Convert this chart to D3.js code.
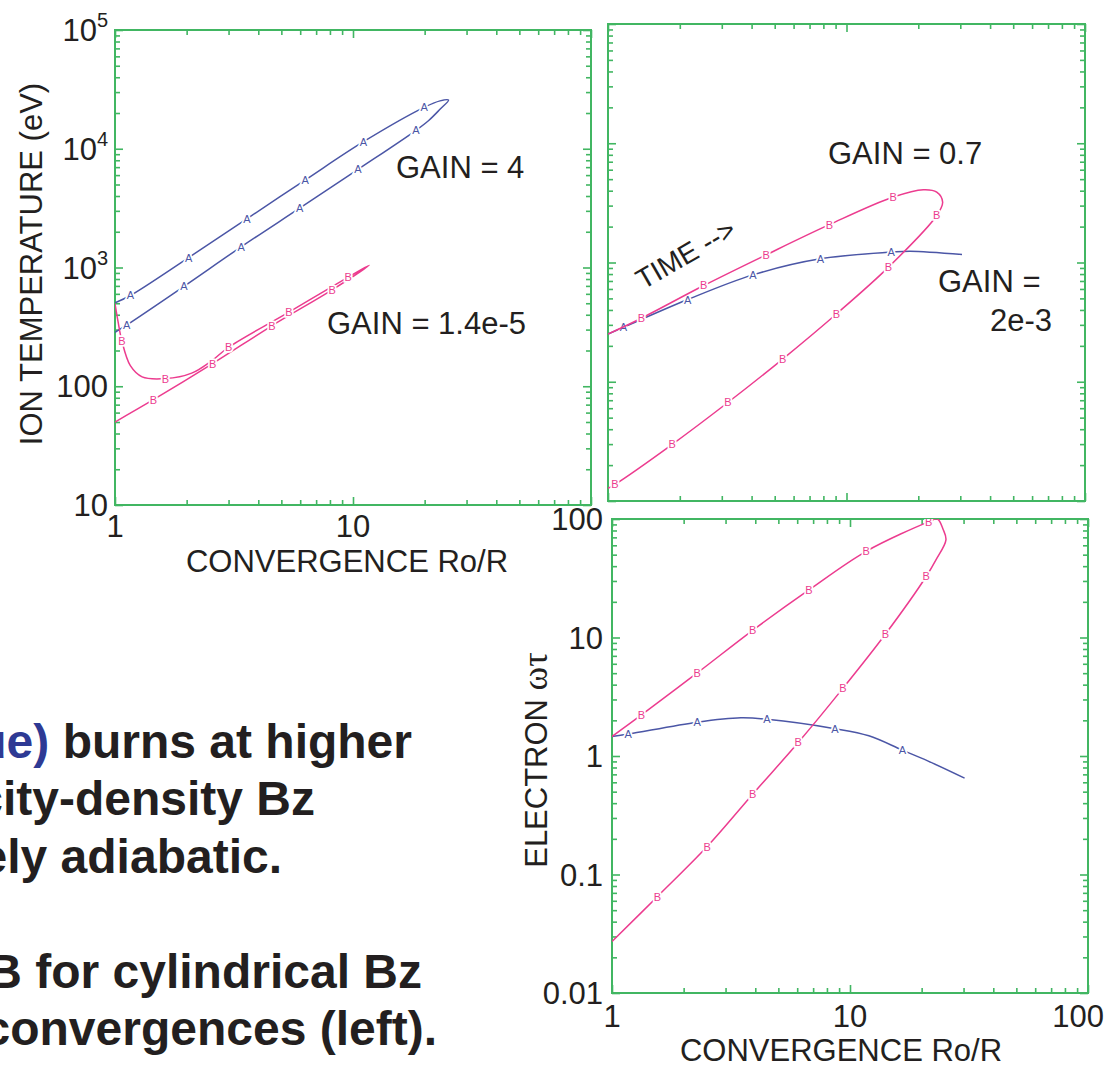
<!DOCTYPE html>
<html>
<head>
<meta charset="utf-8">
<script src="https://cdn.jsdelivr.net/npm/d3@7"></script>
<style>
  body { margin: 0; background: #fff; }
  svg text { font-family: "Liberation Sans", Arial, Helvetica, sans-serif; fill: #231f20; }
</style>
</head>
<body>
<svg id="chart" width="1109" height="1067"></svg>
<script>
// ---- data: [convergence, value, hasMarker] ----
var tempTickValues = [10, 100, 1000, 10000, 100000];
var tempTickLabels = ["10", "100", "10^3", "10^4", "10^5"];
var wtTickValues = [0.01, 0.1, 1, 10, 100];
var wtTickLabels = ["0.01", "0.1", "1", "10", "100"];
var convTickValues = [1, 10, 100];
var convTickLabelsTop = ["1", "10", ""];   // the "100" here is hidden under the lower panel's label
var convTickLabelsBottom = ["1", "10", "100"];

// ion temperature, spherical (left)
var sphBlueTemp = [
  [1.0, 504, 0], [1.16, 581, 1], [2.04, 1213, 1], [3.58, 2570, 1], [6.29, 5445, 1],
  [11.07, 11460, 1], [19.9, 22300, 1], [23.2, 25300, 0], [25.2, 25700, 0], [23.2, 21500, 0],
  [20.8, 17300, 0], [18.4, 14300, 1], [10.5, 6700, 1], [5.97, 3160, 1], [3.39, 1493, 1],
  [1.95, 695, 1], [1.12, 328, 1], [1.0, 284, 0]
];
var sphPinkTemp = [
  [1.0, 497, 0], [1.03, 350, 0], [1.07, 238, 1], [1.16, 149, 0], [1.30, 120, 0],
  [1.63, 116, 1], [2.10, 129, 0], [2.57, 166, 0], [3.00, 213, 1], [5.38, 421, 1],
  [9.55, 830, 1], [11.7, 1045, 0], [8.17, 648, 1], [4.56, 323, 1], [2.57, 155, 1],
  [1.45, 77, 1], [1.0, 50, 0]
];
// ion temperature, cylindrical (upper right)
var cylPinkTemp = [
  [1.0, 251, 0], [1.38, 341, 1], [2.52, 641, 1], [4.60, 1159, 1], [8.47, 2076, 1],
  [15.7, 3540, 1], [21.0, 4080, 0], [23.9, 3900, 0], [25.3, 3210, 0], [23.9, 2480, 1],
  [15.0, 914, 1], [9.07, 370, 1], [5.40, 155, 1], [3.18, 67, 1], [1.86, 29.9, 1],
  [1.07, 13.8, 1], [1.0, 12.8, 0]
];
var cylBlueTemp = [
  [1.0, 251, 0], [1.16, 286, 1], [2.16, 489, 1], [4.05, 787, 1], [7.77, 1074, 1],
  [15.4, 1222, 1], [18.5, 1245, 0], [30.5, 1167, 0]
];
// electron omega-tau, cylindrical (lower right)
var cylPinkWt = [
  [1.0, 1.46, 0], [1.33, 2.22, 1], [2.28, 5.02, 1], [3.90, 11.5, 1], [6.72, 25.2, 1],
  [11.7, 53.4, 1], [21.4, 94.6, 1], [23.3, 100, 0], [24.6, 82, 0], [25.3, 66.7, 0],
  [23.0, 45.4, 0], [20.9, 32.7, 1], [14.1, 10.7, 1], [9.33, 3.72, 1], [6.06, 1.30, 1],
  [3.90, 0.476, 1], [2.51, 0.172, 1], [1.55, 0.065, 1], [1.0, 0.0272, 0]
];
var cylBlueWt = [
  [1.0, 1.46, 0], [1.17, 1.53, 1], [2.28, 1.93, 1], [3.48, 2.10, 0], [4.48, 2.04, 1],
  [8.65, 1.70, 1], [12.0, 1.48, 0], [16.6, 1.12, 1], [21.2, 0.91, 0], [30.3, 0.65, 0]
];

// caption runs off the left edge of the slide, as in the original
var textLines = [
  ["ue)", " burns at higher"],
  ["", "city-density Bz"],
  ["", "ely adiabatic."],
  ["", "B for cylindrical Bz"],
  ["", "convergences (left)."]
];

var BLUE = "#4b56a6", PINK = "#ec3c8f", GREEN = "#41b662", DARKBLUE = "#2e3a94";

var svg = d3.select("#chart");
svg.append("rect").attr("width", 1109).attr("height", 1067).attr("fill", "#fff");

function isMajor(v) {
  var l = Math.log10(v);
  return Math.abs(l - Math.round(l)) < 1e-6;
}

function makePanel(id, x0, x1, y0, y1, xDom, yDom) {
  var xs = d3.scaleLog().domain(xDom).range([x0, x1]);
  var ys = d3.scaleLog().domain(yDom).range([y1, y0]);
  var g = svg.append("g").attr("class", "panel " + id);

  svg.append("clipPath").attr("id", "clip-" + id)
    .append("rect").attr("x", x0).attr("y", y0).attr("width", x1 - x0).attr("height", y1 - y0);

  // ticks on all four sides, pointing in
  var sides = [
    [d3.axisBottom(xs), "translate(0," + y1 + ")", "y2", -1],
    [d3.axisTop(xs), "translate(0," + y0 + ")", "y2", 1],
    [d3.axisLeft(ys), "translate(" + x0 + ",0)", "x2", 1],
    [d3.axisRight(ys), "translate(" + x1 + ",0)", "x2", -1]
  ];
  sides.forEach(function (s) {
    var scale = (s[2] == "y2") ? xs : ys;
    var ax = s[0].tickValues(scale.ticks()).tickFormat("").tickSizeOuter(0);
    var a = g.append("g").attr("transform", s[1]).call(ax);
    a.select(".domain").remove();
    a.selectAll(".tick line")
      .attr("stroke", GREEN).attr("stroke-width", 1.6)
      .attr(s[2], function (d) { return s[3] * (isMajor(d) ? 8 : 5); });
  });

  g.append("rect")
    .attr("x", x0).attr("y", y0).attr("width", x1 - x0).attr("height", y1 - y0)
    .attr("fill", "none").attr("stroke", GREEN).attr("stroke-width", 2);

  return { g: g, xs: xs, ys: ys, id: id };
}

function drawCurve(p, data, color, letter) {
  var line = d3.line()
    .x(function (d) { return p.xs(d[0]); })
    .y(function (d) { return p.ys(d[1]); })
    .curve(d3.curveCatmullRom.alpha(0.5));
  var cg = p.g.append("g").attr("clip-path", "url(#clip-" + p.id + ")");
  cg.append("path").datum(data)
    .attr("d", line)
    .attr("fill", "none").attr("stroke", color).attr("stroke-width", 1.5);
  cg.selectAll("text.mk").data(data.filter(function (d) { return d[2]; }))
    .enter().append("text")
    .attr("class", "mk")
    .attr("x", function (d) { return p.xs(d[0]); })
    .attr("y", function (d) { return p.ys(d[1]); })
    .attr("dy", "0.36em")
    .attr("text-anchor", "middle")
    .style("font-size", "11px")
    .style("fill", color)
    .attr("stroke", "#fff").attr("stroke-width", 3.5).attr("paint-order", "stroke")
    .text(letter);
}

function yLabels(p, values, labels, xRight) {
  values.forEach(function (v, i) {
    var parts = labels[i].split("^");
    var t = svg.append("text")
      .attr("x", xRight).attr("y", p.ys(v) + 11)
      .attr("text-anchor", "end")
      .style("font-size", "31px");
    t.append("tspan").text(parts[0]);
    if (parts[1]) {
      t.append("tspan").attr("dy", -14).style("font-size", "20px").text(parts[1]);
    }
  });
}

function xLabels(p, values, labels, baseline) {
  values.forEach(function (v, i) {
    if (!labels[i]) return;
    var t = svg.append("text")
      .attr("x", p.xs(v)).attr("y", baseline)
      .attr("text-anchor", "middle")
      .style("font-size", "31px")
      .text(labels[i]);
    var w = t.node().getComputedTextLength();
    if (p.xs(v) + w / 2 > 1104) t.attr("text-anchor", "end").attr("x", 1104);
  });
}

function label(x, y, txt, size, anchor) {
  return svg.append("text").attr("x", x).attr("y", y)
    .attr("text-anchor", anchor || "start")
    .style("font-size", size + "px").text(txt);
}

// ---- top left: spherical ion temperature ----
var tl = makePanel("tl", 115, 591, 30, 505, [1, 100], [10, 100000]);
drawCurve(tl, sphBlueTemp, BLUE, "A");
drawCurve(tl, sphPinkTemp, PINK, "B");
yLabels(tl, tempTickValues, tempTickLabels, 108);
xLabels(tl, convTickValues, convTickLabelsTop, 537);
label(396, 178, "GAIN = 4", 31);
label(327, 334, "GAIN = 1.4e-5", 31);
svg.append("text")
  .attr("transform", "translate(42,264)rotate(-90)")
  .attr("text-anchor", "middle").style("font-size", "31px")
  .text("ION TEMPERATURE (eV)");
label(347, 572, "CONVERGENCE Ro/R", 31, "middle");

// ---- top right: cylindrical ion temperature ----
var tr = makePanel("tr", 608, 1085, 24, 501, [1, 100], [10, 100000]);
drawCurve(tr, cylBlueTemp, BLUE, "A");
drawCurve(tr, cylPinkTemp, PINK, "B");
label(828, 164, "GAIN = 0.7", 31);
label(938, 292, "GAIN =", 31);
label(990, 331, "2e-3", 31);
svg.append("text")
  .attr("transform", "translate(643,290)rotate(-30)")
  .style("font-size", "28px")
  .text("TIME -->");

// ---- bottom right: electron omega tau ----
var br = makePanel("br", 612, 1088, 519, 993, [1, 100], [0.01, 100]);
drawCurve(br, cylBlueWt, BLUE, "A");
drawCurve(br, cylPinkWt, PINK, "B");
yLabels(br, wtTickValues, wtTickLabels, 603);
xLabels(br, convTickValues, convTickLabelsBottom, 1027);
var yt = svg.append("text")
  .attr("transform", "translate(547,760)rotate(-90)")
  .attr("text-anchor", "middle").style("font-size", "31px");
yt.append("tspan").text("ELECTRON ");
yt.append("tspan").style("font-family", "'Liberation Serif', 'DejaVu Serif', serif")
  .style("font-size", "36px").text("\u03c9\u03c4");
label(841, 1061, "CONVERGENCE Ro/R", 31, "middle");

// ---- cut-off caption at lower left ----
var lineEnds = [412, 315, 282, 422, 437];
var lineBase = [758, 815, 873, 988, 1045];
textLines.forEach(function (parts, i) {
  var t = svg.append("text")
    .attr("x", lineEnds[i]).attr("y", lineBase[i])
    .attr("text-anchor", "end")
    .style("font-size", "48px").style("font-weight", "bold");
  if (parts[0]) t.append("tspan").style("fill", DARKBLUE).text(parts[0]);
  t.append("tspan").text(parts[1]);
});
</script>
</body>
</html>
